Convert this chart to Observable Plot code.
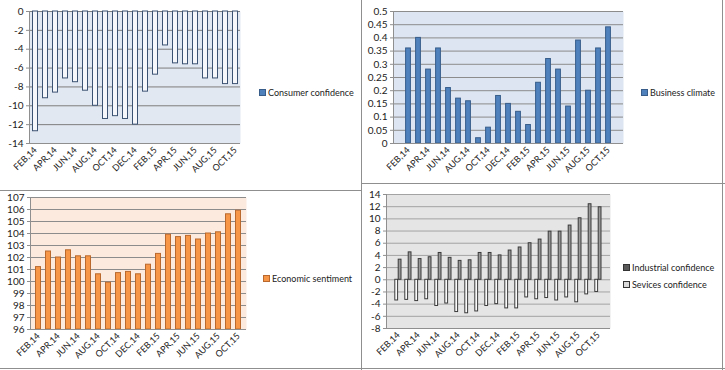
<!DOCTYPE html>
<html>
<head>
<meta charset="utf-8">
<script src="https://cdn.jsdelivr.net/npm/d3@7"></script>
<script src="https://cdn.jsdelivr.net/npm/@observablehq/plot@0.6"></script>
<style>
  html, body { margin: 0; padding: 0; background: #fff; }
  #root { position: relative; width: 725px; height: 370px; overflow: hidden; font-family: Lato, "Open Sans", sans-serif; }
  .panel { position: absolute; }
  .panel svg { display: block; }
  .line { position: absolute; background: #8f8f8f; }
  .legend { position: absolute; font-size: 9px; color: #222; white-space: nowrap; line-height: 11px; }
  .legend span.sw { display: inline-block; width: 5px; height: 5px; margin-right: 2px; vertical-align: 0px; }
</style>
</head>
<body>
<div id="root"></div>
<script>
// ---- data ----
const months = ["FEB,14","MAR,14","APR,14","MAY,14","JUN,14","JUL,14","AUG,14","SEP,14","OCT,14","NOV,14","DEC,14",
                "JAN,15","FEB,15","MAR,15","APR,15","MAY,15","JUN,15","JUL,15","AUG,15","SEP,15","OCT,15"];
const consumerConfidence = [-12.7,-9.2,-8.6,-7.1,-7.5,-8.4,-10.0,-11.4,-11.1,-11.4,-12.0,-8.5,-6.7,-3.6,-5.5,-5.6,-5.6,-7.1,-7.1,-7.7,-7.7];
const businessClimate = [0.36,0.40,0.28,0.36,0.21,0.17,0.16,0.02,0.06,0.18,0.15,0.12,0.07,0.23,0.32,0.28,0.14,0.39,0.20,0.36,0.44];
const economicSentiment = [101.2,102.5,102.0,102.6,102.1,102.1,100.6,99.9,100.7,100.8,100.6,101.4,102.3,103.9,103.7,103.8,103.5,104.0,104.1,105.6,105.9];
const industrialConfidence = [3.3,4.5,3.4,3.7,4.4,3.6,3.1,3.2,4.4,4.4,4.0,4.8,5.3,6.0,6.6,7.9,7.9,8.9,10.1,12.4,11.9];
const servicesConfidence = [-3.4,-3.3,-3.5,-3.2,-4.3,-3.9,-5.3,-5.5,-5.2,-4.3,-4.0,-4.7,-4.7,-2.9,-3.2,-3.0,-3.4,-2.9,-3.7,-2.4,-2.0];
const consumerTicks = [0,-2,-4,-6,-8,-10,-12,-14];
const businessTicks = [0,0.05,0.1,0.15,0.2,0.25,0.3,0.35,0.4,0.45,0.5];
const sentimentTicks = [96,97,98,99,100,101,102,103,104,105,106,107];
const confidenceTicks = [-8,-6,-4,-2,0,2,4,6,8,10,12,14];

const root = document.getElementById("root");
const rows = (vals) => months.map((m, i) => ({month: m, value: vals[i]}));
const xFmt = (d) => (months.indexOf(d) % 2 === 0 ? d : "");

function xAxis() {
  return Plot.axisX({tickFormat: xFmt, tickRotate: -45, tickSize: 0, tickPadding: 5, fontSize: 9, fill: "#222"});
}
function yAxis(ticks) {
  return Plot.axisY({ticks, tickSize: 3, tickPadding: 3, fontSize: 10, fill: "#222", stroke: "#8f8f8f", tickFormat: (d) => String(d)});
}
function addPanel(svg, left, top) {
  const d = document.createElement("div");
  d.className = "panel"; d.style.left = left + "px"; d.style.top = top + "px";
  d.appendChild(svg); root.appendChild(d);
}
function addLegend(items, left, top, gap) {
  const d = document.createElement("div");
  d.className = "legend"; d.style.left = left + "px"; d.style.top = top + "px";
  d.innerHTML = items.map(([t, fill, stroke]) =>
    `<div style="margin-bottom:${gap}px"><span class="sw" style="background:${fill};border:1px solid ${stroke}"></span>${t}</div>`).join("");
  root.appendChild(d);
}
function addLine(l, t, w, h) {
  const d = document.createElement("div");
  d.className = "line"; Object.assign(d.style, {left: l + "px", top: t + "px", width: w + "px", height: h + "px"});
  root.appendChild(d);
}
const baseStyle = {fontFamily: "Lato, 'Open Sans', sans-serif", background: "transparent", color: "#222", overflow: "visible"};

// Panel 1: Consumer confidence
addPanel(Plot.plot({
  width: 362, height: 185, marginLeft: 29, marginRight: 122, marginTop: 11, marginBottom: 42,
  style: baseStyle,
  x: {domain: months, padding: 0, label: null},
  y: {domain: [-14, 0], label: null},
  marks: [
    Plot.frame({fill: "#e2e8f1", stroke: null}),
    Plot.gridY(consumerTicks, {stroke: "#7d7d7d", strokeOpacity: 1}),
    Plot.barY(rows(consumerConfidence), {x: "month", y: "value", fill: "#f5f7fb", stroke: "#3c5373", strokeWidth: 1, insetLeft: 2.5, insetRight: 2.5}),
    Plot.ruleY([-14], {stroke: "#8f8f8f"}),
    Plot.frame({anchor: "left", stroke: "#8f8f8f"}),
    yAxis(consumerTicks),
    xAxis()
  ]
}), 0, 0);
addLegend([["Consumer confidence", "#4f81bd", "#385d8a"]], 259, 87, 0);

// Panel 2: Business climate
addPanel(Plot.plot({
  width: 363, height: 183, marginLeft: 31, marginRight: 102, marginTop: 11, marginBottom: 40,
  style: baseStyle,
  x: {domain: months, padding: 0, label: null},
  y: {domain: [0, 0.5], label: null},
  marks: [
    Plot.frame({fill: "#dce5f1", stroke: null}),
    Plot.gridY(businessTicks, {stroke: "#8c8c8c", strokeOpacity: 1}),
    Plot.barY(rows(businessClimate), {x: "month", y: "value", fill: "#4f81bd", stroke: "#385d8a", strokeWidth: 1, insetLeft: 2.6, insetRight: 2.6}),
    Plot.ruleY([0], {stroke: "#8f8f8f"}),
    Plot.frame({anchor: "left", stroke: "#8f8f8f"}),
    yAxis(businessTicks),
    xAxis()
  ]
}), 362, 0);
addLegend([["Business climate", "#4f81bd", "#385d8a"]], 641, 87, 0);

// Panel 3: Economic sentiment
addPanel(Plot.plot({
  width: 362, height: 185, marginLeft: 30, marginRight: 116, marginTop: 12, marginBottom: 41,
  style: baseStyle,
  x: {domain: months, padding: 0, label: null},
  y: {domain: [96, 107], label: null},
  marks: [
    Plot.frame({fill: "#fdeadf", stroke: null}),
    Plot.gridY(sentimentTicks, {stroke: "#8c8c8c", strokeOpacity: 1}),
    Plot.barY(rows(economicSentiment), {x: "month", y1: 96, y2: "value", fill: "#f79646", stroke: "#b9692e", strokeWidth: 1, insetLeft: 2.5, insetRight: 2.5}),
    Plot.ruleY([96], {stroke: "#8f8f8f"}),
    Plot.frame({anchor: "left", stroke: "#8f8f8f"}),
    yAxis(sentimentTicks),
    xAxis()
  ]
}), 0, 185);
addLegend([["Economic sentiment", "#f79646", "#b9692e"]], 263, 273, 0);

// Panel 4: Industrial & services confidence
addPanel(Plot.plot({
  width: 363, height: 187, marginLeft: 24, marginRight: 115, marginTop: 11, marginBottom: 42,
  style: baseStyle,
  x: {domain: months, padding: 0, label: null},
  y: {domain: [-8, 14], label: null},
  marks: [
    Plot.frame({fill: "#e5e5e5", stroke: null}),
    Plot.gridY(confidenceTicks, {stroke: "#a3a3a3", strokeOpacity: 1}),
    Plot.barY(rows(servicesConfidence), {x: "month", y: "value", fill: "#fbfbfb", stroke: "#3a3a3a", strokeWidth: 1, insetLeft: 1.8, insetRight: 5.4}),
    Plot.barY(rows(industrialConfidence), {x: "month", y: "value", fill: "#9a9a9a", stroke: "#3a3a3a", strokeWidth: 1, insetLeft: 5.2, insetRight: 2}),
    Plot.ruleY([-8], {stroke: "#8f8f8f"}),
    Plot.frame({anchor: "left", stroke: "#8f8f8f"}),
    yAxis(confidenceTicks),
    xAxis()
  ]
}), 362, 183);
addLegend([["Industrial confidence", "#595959", "#333"], ["Sevices confidence", "#d9d9d9", "#333"]], 623, 262, 6);

// panel borders
addLine(0, 190, 362, 1);
addLine(361, 0, 1, 370);
addLine(362, 183, 363, 1);
addLine(722, 0, 1, 370);
addLine(0, 368, 725, 1);
</script>
</body>
</html>
